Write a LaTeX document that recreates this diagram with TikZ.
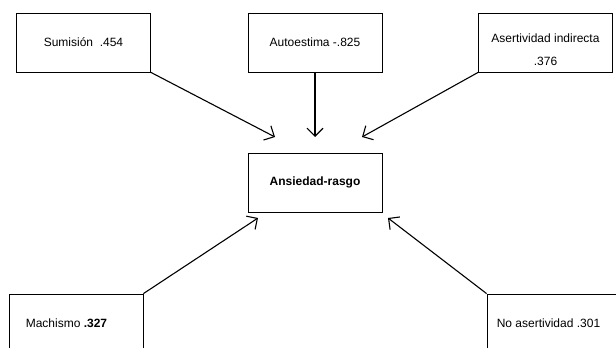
\documentclass[tikz,border=0pt]{standalone}
\usepackage{fontspec}
\setmainfont{Liberation Sans}
\usetikzlibrary{arrows.meta}
\begin{document}
\begin{tikzpicture}[x=1pt,y=-1pt,
  box/.style={draw,line width=0.8pt,minimum width=134pt,minimum height=59pt,inner sep=0pt,
    font=\fontsize{12}{23}\selectfont,align=center},
  txt/.style={inner sep=0pt,font=\fontsize{12}{23}\selectfont,align=center},
  conn/.style={line width=1.1pt,-{Straight Barb[length=8pt,width=16pt,line width=1.1pt]}}]
\useasboundingbox (0,0) rectangle (616,348);
\clip (0,0) rectangle (616,348);
\node[box] (sum) at (83.5,42.5) {Sumisión\ \ .454};
\node[box] (auto) at (315,42.5) {Autoestima -.825};
\node[box] (aser) at (545.5,42.5) {};
\node[txt] (asert) at (545.5,50) {Asertividad indirecta\\.376};
\node[box] (ans) at (315,182.5) {\textbf{Ansiedad-rasgo}};
\node[box] (mach) at (76,323.5) {};
\node[txt,anchor=west] (macht) at ([xshift=17pt]mach.west) {Machismo \textbf{.327}};
\node[box] (noas) at (554,323.5) {};
\node[txt,anchor=west] (noast) at ([xshift=10pt]noas.west) {No asertividad .301};
\coordinate (t1) at (275,137);
\coordinate (t2) at (315,137);
\coordinate (t3) at (362,137);
\coordinate (t4) at (258,218);
\coordinate (t5) at (388,218);
\draw[conn] (sum.south east) -- (t1);
\draw[conn] (auto.south) -- (t2);
\draw[conn] (aser.south west) -- (t3);
\draw[conn] (mach.north east) -- (t4);
\draw[conn] (noas.north west) -- (t5);
\end{tikzpicture}
\end{document}
